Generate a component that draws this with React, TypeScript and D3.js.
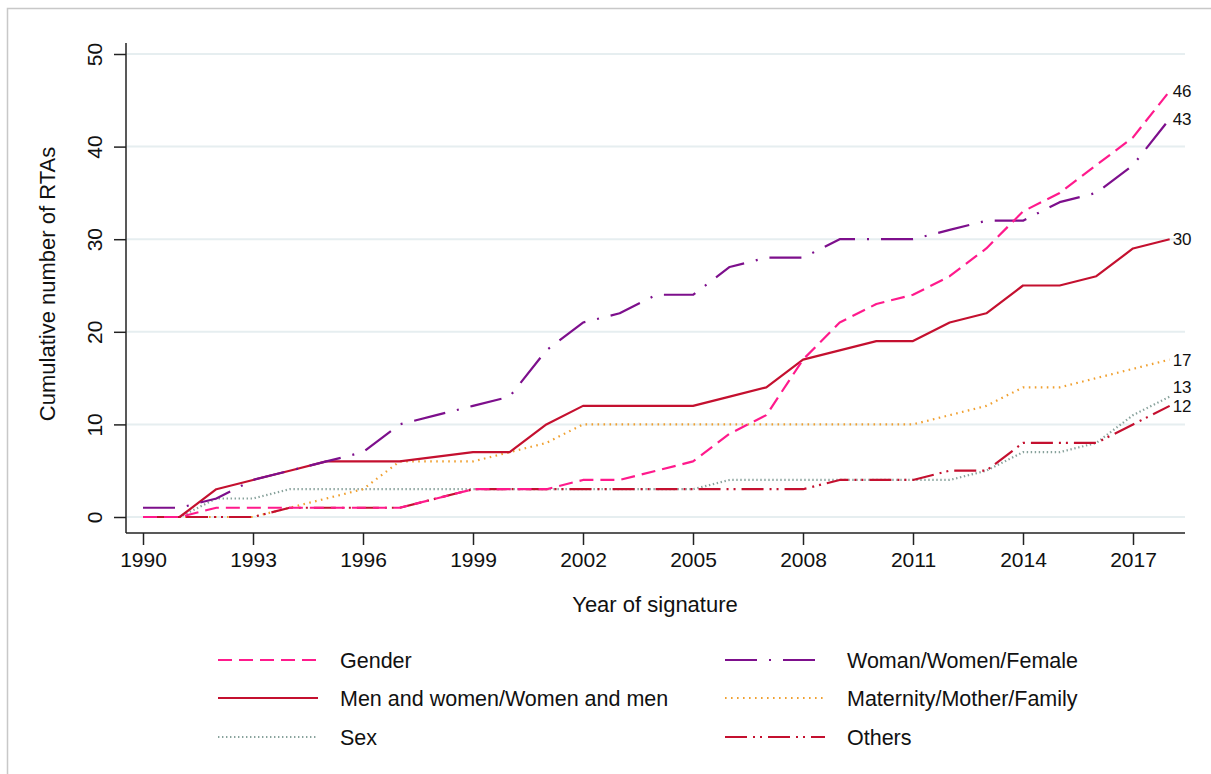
import * as d3 from 'd3'
import { useEffect, useRef } from 'react'

const years = d3.range(1990, 2019)

// cumulative number of RTAs per year (null = no point drawn)
const gender = [0, 0, 1, 1, 1, 1, 1, 1, 2, 3, 3, 3, 4, 4, 5, 6, 9, 11, 17, 21, 23, 24, 26, 29, 33, 35, 38, 41, 46]
const woman = [1, 1, 2, 4, 5, 6, 7, 10, 11, 12, 13, 18, 21, 22, 24, 24, 27, 28, 28, 30, 30, 30, 31, 32, 32, 34, 35, 38, 43]
const menWomen = [0, 0, 3, 4, 5, 6, 6, 6, null, 7, 7, 10, 12, 12, 12, 12, 13, 14, 17, 18, 19, 19, 21, 22, 25, 25, 26, 29, 30]
const maternity = [0, 0, 0, 0, 1, 2, 3, 6, 6, 6, 7, 8, 10, 10, 10, 10, 10, 10, 10, 10, 10, 10, 11, 12, 14, 14, 15, 16, 17]
const sex = [0, 0, 2, 2, 3, 3, 3, 3, 3, 3, 3, 3, 3, 3, 3, 3, 4, 4, 4, 4, 4, 4, 4, 5, 7, 7, 8, 11, 13]
const others = [0, 0, 0, 0, 1, 1, 1, 1, 2, 3, 3, 3, 3, 3, 3, 3, 3, 3, 3, 4, 4, 4, 5, 5, 8, 8, 8, 10, 12]

const yTicks = [0, 10, 20, 30, 40, 50]
const xTicks = [1990, 1993, 1996, 1999, 2002, 2005, 2008, 2011, 2014, 2017]
const endLabels = [46, 43, 30, 17, 13, 12]

const series = [
  { name: 'Gender', values: gender, color: '#ff1a8c', dash: '14,7', width: 2.2, col: 0, row: 0 },
  { name: 'Woman/Women/Female', values: woman, color: '#7d0f8c', dash: '32,12,2,12', width: 2.2, col: 1, row: 0 },
  { name: 'Men and women/Women and men', values: menWomen, color: '#c4102f', dash: null, width: 2.2, col: 0, row: 1 },
  { name: 'Maternity/Mother/Family', values: maternity, color: '#f0a030', dash: '1.6,4.4', width: 2.2, col: 1, row: 1 },
  { name: 'Sex', values: sex, color: '#88a29c', dash: '1.4,2.6', width: 2.2, col: 0, row: 2 },
  { name: 'Others', values: others, color: '#c4102f', dash: '22,6,2,5,2,6', width: 2.2, col: 1, row: 2 },
]

const App = () => {
  const ref = useRef(null)

  useEffect(() => {
    const W = 1211
    const H = 774
    const svg = d3.select(ref.current)
    svg.selectAll('*').remove()
    svg.attr('width', W).attr('height', H)

    const font = 'Liberation Sans, Arial, Helvetica, sans-serif'

    svg.append('rect').attr('width', W).attr('height', H).attr('fill', '#fff')
    svg
      .append('rect')
      .attr('x', 7.5)
      .attr('y', 8.5)
      .attr('width', 1220)
      .attr('height', 800)
      .attr('fill', 'none')
      .attr('stroke', '#c8c8c8')
      .attr('stroke-width', 1.5)

    const x = d3.scaleLinear().domain([1990, 2017]).range([143, 1133])
    const y = d3.scaleLinear().domain([0, 50]).range([517, 54])
    const plotLeft = 126
    const plotRight = 1185
    const axisY = 533

    // gridlines
    svg
      .append('g')
      .selectAll('line')
      .data(yTicks)
      .enter()
      .append('line')
      .attr('x1', plotLeft + 1)
      .attr('x2', plotRight)
      .attr('y1', (d) => y(d))
      .attr('y2', (d) => y(d))
      .attr('stroke', '#e6eef0')
      .attr('stroke-width', 2)

    // y axis
    const yAxis = svg
      .append('g')
      .attr('transform', `translate(${plotLeft},0)`)
      .call(d3.axisLeft(y).tickValues(yTicks).tickSize(12).tickPadding(6))
    yAxis.select('.domain').attr('d', `M0,${y(51.2)}V${axisY}`).attr('stroke', '#222').attr('stroke-width', 1.5)
    yAxis.selectAll('.tick line').attr('stroke', '#222').attr('stroke-width', 1.5)
    yAxis
      .selectAll('.tick text')
      .attr('font-family', font)
      .attr('font-size', 21)
      .attr('fill', '#111')
      .attr('text-anchor', 'middle')
      .attr('transform', 'rotate(-90)')
      .attr('x', 0)
      .attr('y', -24)
      .attr('dy', 0)

    // x axis
    const xAxis = svg
      .append('g')
      .attr('transform', `translate(0,${axisY})`)
      .call(d3.axisBottom(x).tickValues(xTicks).tickFormat(d3.format('d')).tickSize(12).tickPadding(7))
    xAxis.select('.domain').attr('d', `M${plotLeft},0H${plotRight}`).attr('stroke', '#222').attr('stroke-width', 1.5)
    xAxis.selectAll('.tick line').attr('stroke', '#222').attr('stroke-width', 1.5)
    xAxis
      .selectAll('.tick text')
      .attr('font-family', font)
      .attr('font-size', 21)
      .attr('fill', '#111')

    // axis titles
    svg
      .append('text')
      .attr('x', 655)
      .attr('y', 612)
      .attr('text-anchor', 'middle')
      .attr('font-family', font)
      .attr('font-size', 22)
      .attr('fill', '#111')
      .text('Year of signature')
    svg
      .append('text')
      .attr('transform', 'translate(55,284) rotate(-90)')
      .attr('text-anchor', 'middle')
      .attr('font-family', font)
      .attr('font-size', 22)
      .attr('fill', '#111')
      .text('Cumulative number of RTAs')

    // lines
    const line = d3
      .line()
      .x((d) => x(d[0]))
      .y((d) => y(d[1]))
    const drawOrder = [4, 3, 5, 2, 1, 0]
    drawOrder.forEach((i) => {
      const s = series[i]
      const pts = years.map((yr, j) => [yr, s.values[j]]).filter((p) => p[1] !== null)
      svg
        .append('path')
        .datum(pts)
        .attr('d', line)
        .attr('fill', 'none')
        .attr('stroke', s.color)
        .attr('stroke-width', s.width)
        .attr('stroke-dasharray', s.dash)
        .attr('stroke-linejoin', 'round')
    })

    // end labels (13 and 12 nudged apart like the original)
    const labelY = { 46: 46, 43: 43, 30: 30, 17: 17, 13: 14, 12: 12 }
    svg
      .append('g')
      .selectAll('text')
      .data(endLabels)
      .enter()
      .append('text')
      .attr('x', x(2018) + 3)
      .attr('y', (d) => y(labelY[d]))
      .attr('dy', '0.35em')
      .attr('font-family', font)
      .attr('font-size', 17)
      .attr('fill', '#111')
      .text((d) => d)

    // legend
    const legX = [218, 725]
    const legY = [660, 698, 737]
    series.forEach((s) => {
      const g = svg.append('g').attr('transform', `translate(${legX[s.col]},${legY[s.row]})`)
      g.append('line')
        .attr('x1', 0)
        .attr('x2', 100)
        .attr('stroke', s.color)
        .attr('stroke-width', s.width)
        .attr('stroke-dasharray', s.dash)
      g.append('text')
        .attr('x', 122)
        .attr('dy', '0.35em')
        .attr('font-family', font)
        .attr('font-size', 21.5)
        .attr('fill', '#111')
        .text(s.name)
    })
  }, [])

  return (
    <div style={{ position: 'absolute', top: 0, left: 0 }}>
      <svg ref={ref}></svg>
    </div>
  )
}

export default App
